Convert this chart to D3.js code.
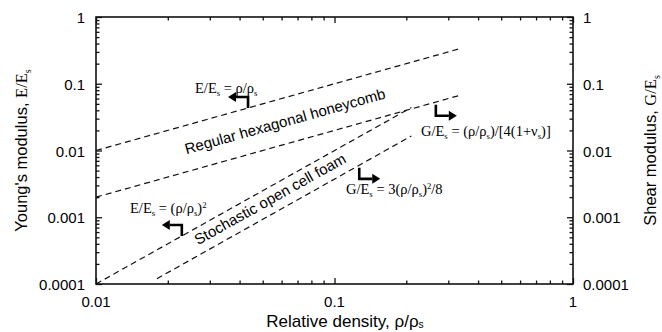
<!DOCTYPE html>
<html>
<head>
<meta charset="utf-8">
<script src="https://cdn.jsdelivr.net/npm/d3@7"></script>
<style>
  body { margin: 0; background: #fff; }
  svg { display: block; }
  .sans { font-family: "Liberation Sans", Arial, sans-serif; }
  .serif { font-family: "Liberation Serif", "Times New Roman", serif; }
</style>
</head>
<body>
<svg id="chart" width="662" height="332"></svg>
<script>
const width = 662
const height = 332

// axes
const xDomain = [0.01, 1]
const yDomain = [0.0001, 1]
const xTicks = [0.01, 0.1, 1]
const yTicks = [0.0001, 0.001, 0.01, 0.1, 1]

// dashed model lines, end points [rho, modulus]
const honeyE = [[0.01, 0.01], [0.34, 0.34]]
const honeyG = [[0.01, 0.002], [0.34, 0.068]]
const foamE = [[0.01, 0.0001], [0.21, 0.044]]
const foamG = [[0.018, 0.00012], [0.21, 0.0165]]
const lines = [honeyE, honeyG, foamE, foamG]

// equation labels: arrow anchor [rho, modulus], arrow direction
const eqLabels = [
  { at: [0.0434, 0.0434], dir: 'upLeft',
    parts: [['E/E'], ['s', 'sub'], [' = ρ/ρ'], ['s', 'sub']], tx: 195, ty: 93 },
  { at: [0.266, 0.0485], dir: 'downRight',
    parts: [['G/E'], ['s', 'sub'], [' = (ρ/ρ'], ['s', 'sub'], [')/[4(1+ν'], ['s', 'sub'], [')]']], tx: 421, ty: 136 },
  { at: [0.0229, 0.000525], dir: 'upLeft',
    parts: [['E/E'], ['s', 'sub'], [' = (ρ/ρ'], ['s', 'sub'], [')'], ['2', 'sup']], tx: 130, ty: 213 },
  { at: [0.127, 0.0055], dir: 'downRight',
    parts: [['G/E'], ['s', 'sub'], [' = 3(ρ/ρ'], ['s', 'sub'], [')'], ['2', 'sup'], ['/8']], tx: 346, ty: 194 },
]

// rotated region labels: [rho, modulus] of the centre
const regionLabels = [
  { text: 'Regular hexagonal honeycomb', at: [0.062, 0.0275], slope: 1 },
  { text: 'Stochastic open cell foam', at: [0.0537, 0.00188], slope: 2 },
]

const svg = d3.select('#chart')

const x = d3.scaleLog().domain(xDomain).range([96, 573])
const y = d3.scaleLog().domain(yDomain).range([284, 17])

const minorX = x.ticks().filter((t) => !xTicks.includes(t))
const minorY = y.ticks().filter((t) => !yTicks.includes(t))

function tickAxis(axis, scale, major, minor) {
  const g = svg.append('g')
  g.append('g').call(axis(scale).tickValues(major).tickSize(-6).tickFormat(''))
  g.append('g').call(axis(scale).tickValues(minor).tickSize(-3.5).tickFormat(''))
  g.selectAll('.domain').remove()
  g.selectAll('line').attr('stroke', '#111').attr('stroke-width', 1.3)
  return g
}

tickAxis(d3.axisBottom, x, xTicks, minorX).attr('transform', `translate(0,${y.range()[0]})`)
tickAxis(d3.axisTop, x, xTicks, minorX).attr('transform', `translate(0,${y.range()[1]})`)
tickAxis(d3.axisLeft, y, yTicks, minorY).attr('transform', `translate(${x.range()[0]},0)`)
tickAxis(d3.axisRight, y, yTicks, minorY).attr('transform', `translate(${x.range()[1]},0)`)

// frame
svg.append('rect')
  .attr('x', x.range()[0])
  .attr('y', y.range()[1])
  .attr('width', x.range()[1] - x.range()[0])
  .attr('height', y.range()[0] - y.range()[1])
  .attr('fill', 'none')
  .attr('stroke', '#111')
  .attr('stroke-width', 1.6)

// tick labels
const fmt = (d) => d.toString()
svg.append('g').attr('class', 'sans').attr('font-size', 15)
  .selectAll('text').data(yTicks).join('text')
  .attr('x', x.range()[0] - 11)
  .attr('y', (d) => y(d))
  .attr('dy', '0.4em')
  .attr('text-anchor', 'end')
  .text(fmt)
svg.append('g').attr('class', 'sans').attr('font-size', 15)
  .selectAll('text').data(yTicks).join('text')
  .attr('x', x.range()[1] + 10)
  .attr('y', (d) => y(d))
  .attr('dy', '0.4em')
  .text(fmt)
svg.append('g').attr('class', 'sans').attr('font-size', 15)
  .selectAll('text').data(xTicks).join('text')
  .attr('x', (d) => x(d))
  .attr('y', y.range()[0] + 23)
  .attr('text-anchor', 'middle')
  .text(fmt)

// rich text helper, parts = [[str, 'sub'|'sup'|undefined]]
function rich(t, parts, size, subShift = 0.22) {
  let shift = 0
  parts.forEach(([s, kind]) => {
    const target = kind === 'sub' ? size * subShift : kind === 'sup' ? -size * 0.35 : 0
    const sp = t.append('tspan').attr('dy', target - shift).text(s)
    if (kind) sp.attr('font-size', size * 0.6)
    shift = target
  })
  return t
}

// axis titles
const midY = (y.range()[0] + y.range()[1]) / 2
const leftTitle = svg.append('text').attr('class', 'sans').attr('font-size', 16.5)
  .attr('text-anchor', 'middle')
  .attr('transform', `translate(27,${midY}) rotate(-90)`)
leftTitle.append('tspan').text("Young's modulus, ")
rich(leftTitle.append('tspan').attr('class', 'serif'), [['E/E'], ['s', 'sub']], 16.5)

const rightTitle = svg.append('text').attr('class', 'sans').attr('font-size', 16.5)
  .attr('text-anchor', 'middle')
  .attr('transform', `translate(656,${midY}) rotate(-90)`)
rightTitle.append('tspan').text('Shear modulus, ')
rich(rightTitle.append('tspan').attr('class', 'serif'), [['G/E'], ['s', 'sub']], 16.5)

const bottomTitle = svg.append('text').attr('class', 'sans').attr('font-size', 17)
  .attr('text-anchor', 'middle')
  .attr('transform', 'translate(345,327)')
rich(bottomTitle, [['Relative density, ρ/ρ'], ['s', 'sub']], 17, 0.08)

// dashed lines
const lineGen = d3.line().x((d) => x(d[0])).y((d) => y(d[1]))
svg.append('g')
  .selectAll('path').data(lines).join('path')
  .attr('d', lineGen)
  .attr('fill', 'none')
  .attr('stroke', '#111')
  .attr('stroke-width', 1.2)
  .attr('stroke-dasharray', '6,4')

// region labels rotated along the lines
const decX = x(10) - x(1)
const decY = y(1) - y(10)
svg.append('g').attr('class', 'sans').attr('font-size', 15)
  .selectAll('text').data(regionLabels).join('text')
  .attr('text-anchor', 'middle')
  .attr('dy', '0.35em')
  .attr('transform', (d) => {
    const ang = (Math.atan2(d.slope * decY, decX) * 180) / Math.PI
    return `translate(${x(d.at[0])},${y(d.at[1])}) rotate(${-ang})`
  })
  .text((d) => d.text)

// equation labels + bracket arrows
const eqG = svg.append('g')
eqLabels.forEach((d) => {
  const px = x(d.at[0])
  const py = y(d.at[1])
  const up = d.dir === 'upLeft'
  const vy = up ? py - 11 : py + 11
  const hx = up ? px - 12 : px + 13
  const tip = up ? hx - 8 : hx + 8
  eqG.append('path')
    .attr('d', `M${px},${py}V${vy}H${hx}`)
    .attr('fill', 'none')
    .attr('stroke', '#000')
    .attr('stroke-width', 2.6)
  eqG.append('path')
    .attr('d', `M${tip},${vy}L${hx},${vy - 5}L${hx},${vy + 5}Z`)
    .attr('fill', '#000')

  const t = eqG.append('text').attr('class', 'serif').attr('font-size', 14.5)
    .attr('x', d.tx).attr('y', d.ty)
  rich(t, d.parts, 14.5)
})
</script>
</body>
</html>
